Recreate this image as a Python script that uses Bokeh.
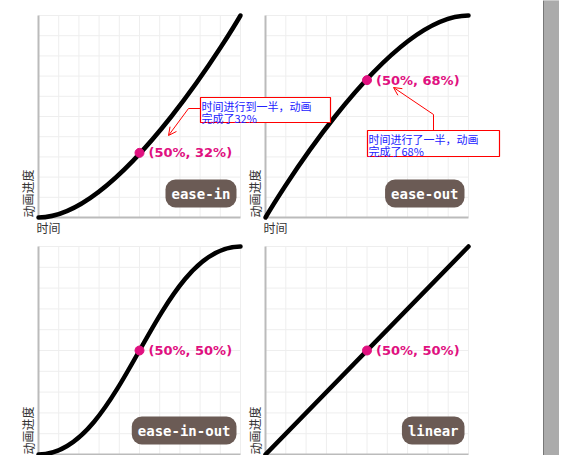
from bokeh.plotting import figure
from bokeh.models import Range1d, Label, Arrow, OpenHead
from bokeh.core.properties import value
from bokeh.embed import file_html
from bokeh.resources import INLINE

# Easing curves as cubic-bezier control points (unit square)
names = ["ease-in", "ease-out", "ease-in-out", "linear"]
cx0 = [0.42, 0.0, 0.42, 0.0]
cy0 = [0.0, 0.0, 0.0, 0.0]
cx1 = [1.0, 0.58, 0.58, 1.0]
cy1 = [1.0, 1.0, 1.0, 1.0]
dot_x = [0.5, 0.5, 0.5, 0.5]
dot_y = [0.32, 0.68, 0.5, 0.5]
dot_labels = ["(50%, 32%)", "(50%, 68%)", "(50%, 50%)", "(50%, 50%)"]
notes = [["时间进行到一半，动画", "完成了32%"], ["时间进行了一半，动画", "完成了68%"]]

# panel placement in page pixels: left, bottom, width, height
panels = [(38, 217, 202, 202), (265, 217, 203, 202), (38, 454, 202, 208), (265, 454, 203, 208)]

p = figure(width=559, height=455, output_backend="svg", toolbar_location=None,
           x_range=Range1d(0, 559), y_range=Range1d(455, 0), min_border=0)
p.axis.visible = False
p.grid.visible = False
p.outline_line_color = None
p.background_fill_color = "white"

# grey side strip and bottom red rule
p.quad(left=543, right=559, top=0, bottom=455, color="#ababab")
p.segment(x0=[543], y0=[0], x1=[543], y1=[455], color="#777777", line_width=1)
p.segment(x0=[8], y0=[461], x1=[475], y1=[461], color="red", line_width=3)

ff = value("Noto Sans CJK SC")
for i, (L, B, W, H) in enumerate(panels):
    X = lambda u: L + u * W
    Y = lambda v: B - v * H
    g = [k / 10 for k in range(1, 11)]
    p.segment(x0=[X(u) for u in g], y0=[Y(0)] * 10, x1=[X(u) for u in g], y1=[Y(1)] * 10,
              color="#eeeeee", line_width=1)
    p.segment(x0=[X(0)] * 10, y0=[Y(v) for v in g], x1=[X(1)] * 10, y1=[Y(v) for v in g],
              color="#eeeeee", line_width=1)
    p.line([X(0), X(0), X(1)], [Y(1), Y(0), Y(0)], color="#bbbbbb", line_width=2)
    p.bezier(x0=[X(0)], y0=[Y(0)], x1=[X(1)], y1=[Y(1)],
             cx0=[X(cx0[i])], cy0=[Y(cy0[i])], cx1=[X(cx1[i])], cy1=[Y(cy1[i])],
             line_color="black", line_width=4.5, line_cap="round")
    p.scatter([X(dot_x[i])], [Y(dot_y[i])], size=9, color="#e0107f")
    p.text([X(dot_x[i]) + 9], [Y(dot_y[i])], text=[dot_labels[i]], text_font=value("DejaVu Sans"),
           text_font_style="bold", text_font_size="13px", text_color="#e0107f",
           text_baseline="middle")
    p.text([X(0) - 2], [Y(0) + 1], text=["时间"], text_font=ff, text_font_size="12px",
           text_color="#333333", text_baseline="top")
    p.text([X(0) - 2], [Y(0)], text=["动画进度"], text_font=ff, text_font_size="12px",
           text_color="#333333", angle=1.5708, text_baseline="bottom", text_align="left")
    p.add_layout(Label(x=X(1) - 4, y=Y(0) - 24, text=names[i], text_align="right",
                       text_baseline="middle", text_font="DejaVu Sans Mono", text_font_style="bold",
                       text_font_size="14px", text_color="white", background_fill_color="#6b5b55",
                       padding=6, border_radius=10))

# callouts
boxes = [(200, 330, 97, 122), (367, 499, 130, 156)]
for (l, r, t, b), lines in zip(boxes, notes):
    p.quad(left=l, right=r, top=t, bottom=b, fill_color="white", line_color="red", line_width=1.2)
    p.text([l + 1, l + 1], [t + 0, t + 12], text=lines, text_font=ff, text_font_size="11px",
           text_color="#2222ff", text_baseline="top")
p.line([200, 188], [108, 108], color="red", line_width=1)
p.add_layout(Arrow(end=OpenHead(size=8, line_color="red", line_width=1), x_start=188, y_start=108,
                   x_end=168, y_end=135, line_color="red", line_width=1))
p.line([433, 433], [130, 114], color="red", line_width=1)
p.add_layout(Arrow(end=OpenHead(size=8, line_color="red", line_width=1), x_start=433, y_start=114,
                   x_end=393, y_end=87, line_color="red", line_width=1))

open("out.html", "w").write(file_html(p, INLINE))
